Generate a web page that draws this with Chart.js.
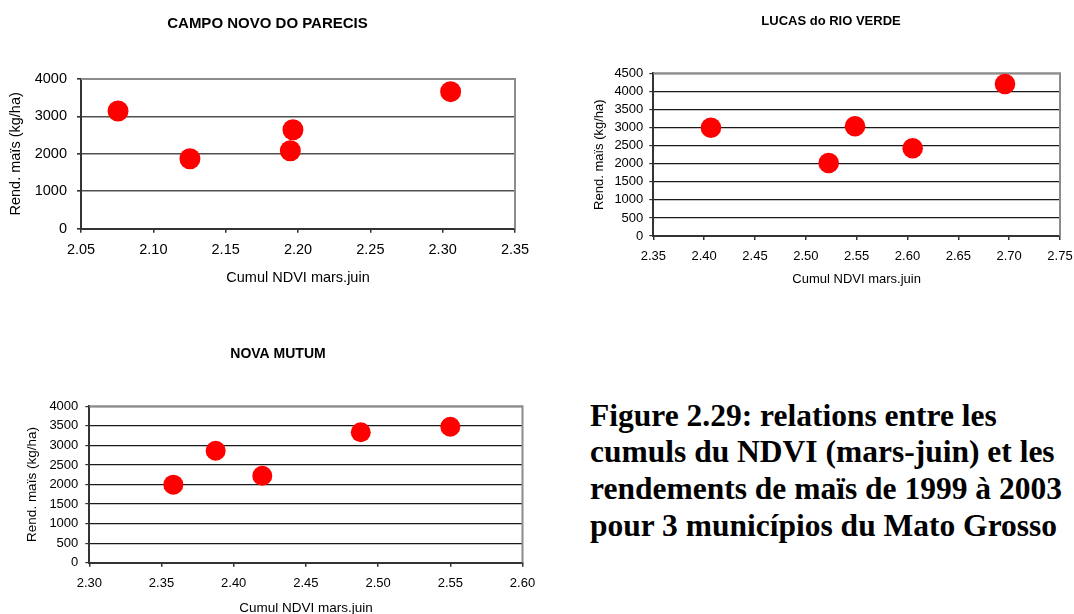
<!DOCTYPE html>
<html>
<head>
<meta charset="utf-8">
<script src="https://cdn.jsdelivr.net/npm/chart.js@4"></script>
<style>
  body { margin: 0; background: #fff; width: 1074px; height: 614px; position: relative; overflow: hidden; }
  canvas { position: absolute; }
  #c1 { left: 0; top: 0; }
  #c2 { left: 540px; top: 0; }
  #c3 { left: 0; top: 330px; }
  .caption {
    position: absolute; left: 590px; top: 397.7px;
    font-family: "Liberation Serif", "Times New Roman", serif;
    font-weight: bold; font-size: 31.5px; line-height: 36.7px;
    white-space: nowrap; color: #000;
  }
</style>
</head>
<body>
<canvas id="c1" width="540" height="300"></canvas>
<canvas id="c2" width="534" height="300"></canvas>
<canvas id="c3" width="560" height="300"></canvas>
<div class="caption">Figure 2.29: relations entre les<br>cumuls du NDVI (mars-juin) et les<br>rendements de maïs de 1999 à 2003<br>pour 3 municípios du Mato Grosso</div>

<script>
// Campo Novo do Parecis
const campoNdvi = [2.0756, 2.1253, 2.1965, 2.1947, 2.3055];
const campoRend = [3145, 1870, 2645, 2084, 3661];
const campoXTicks = [2.05, 2.10, 2.15, 2.20, 2.25, 2.30, 2.35];
const campoYTicks = [0, 1000, 2000, 3000, 4000];

// Lucas do Rio Verde
const lucasNdvi = [2.4067, 2.5225, 2.5484, 2.6051, 2.6959];
const lucasRend = [2995, 2019, 3034, 2426, 4204];
const lucasXTicks = [2.35, 2.40, 2.45, 2.50, 2.55, 2.60, 2.65, 2.70, 2.75];
const lucasYTicks = [0, 500, 1000, 1500, 2000, 2500, 3000, 3500, 4000, 4500];

// Nova Mutum
const novaNdvi = [2.3582, 2.3875, 2.4198, 2.488, 2.55];
const novaRend = [1995, 2864, 2225, 3335, 3478];
const novaXTicks = [2.30, 2.35, 2.40, 2.45, 2.50, 2.55, 2.60];
const novaYTicks = [0, 500, 1000, 1500, 2000, 2500, 3000, 3500, 4000];

const xTitle = "Cumul NDVI mars.juin";
const yTitle = "Rend. maïs (kg/ha)";
const FONT = "'Liberation Sans', Arial, sans-serif";

// top and right border of the plot area, in grey
const frame = {
  id: "frame",
  beforeDatasetsDraw(chart) {
    const a = chart.chartArea;
    const ctx = chart.ctx;
    ctx.save();
    ctx.strokeStyle = "#8c8c8c";
    ctx.lineWidth = 2;
    ctx.beginPath();
    ctx.moveTo(a.left, a.top);
    ctx.lineTo(a.right, a.top);
    ctx.lineTo(a.right, a.bottom);
    ctx.stroke();
    ctx.restore();
  },
};

function makeChart(id, o) {
  const points = o.xs.map((x, i) => ({ x: x, y: o.ys[i] }));
  return new Chart(document.getElementById(id), {
    type: "scatter",
    data: {
      datasets: [
        {
          data: points,
          backgroundColor: "#ff0000",
          borderWidth: 0,
          pointRadius: o.radius,
          pointHoverRadius: o.radius,
        },
      ],
    },
    options: {
      responsive: false,
      animation: false,
      layout: { padding: { left: o.padLeft, right: o.padRight, top: 0, bottom: 0 } },
      plugins: {
        legend: { display: false },
        tooltip: { enabled: false },
        title: {
          display: true,
          text: o.title,
          color: "#000",
          font: { family: FONT, size: o.titleSize, weight: "bold" },
          padding: { top: o.titleTop, bottom: o.titleBottom },
        },
      },
      scales: {
        x: {
          type: "linear",
          min: o.xTicks[0],
          max: o.xTicks[o.xTicks.length - 1],
          afterBuildTicks: (s) => { s.ticks = o.xTicks.map((v) => ({ value: v })); },
          afterFit: (s) => {
            s.height = o.xHeight;
            s.paddingLeft = 0;
            s.paddingRight = o.xPadRight;
          },
          grid: { drawOnChartArea: false, drawTicks: true, tickLength: 4, tickColor: "#333", lineWidth: 1.5 },
          border: { display: true, color: "#333", width: 2 },
          ticks: {
            color: "#000",
            padding: o.xTickPad,
            maxRotation: 0,
            autoSkip: false,
            font: { family: FONT, size: o.tickSize },
            callback: (v) => Number(v).toFixed(2),
          },
          title: {
            display: true,
            text: xTitle,
            color: "#000",
            font: { family: FONT, size: o.axisSize },
            padding: { top: 0, bottom: o.xTitleBottom },
          },
        },
        y: {
          type: "linear",
          min: o.yTicks[0],
          max: o.yTicks[o.yTicks.length - 1],
          afterBuildTicks: (s) => { s.ticks = o.yTicks.map((v) => ({ value: v })); },
          afterFit: (s) => { s.width = o.yWidth; },
          grid: { color: o.gridColor, lineWidth: o.gridWidth, tickLength: 4, tickColor: "#333" },
          border: { display: true, color: "#333", width: 2 },
          ticks: {
            color: "#000",
            padding: o.yTickPad,
            autoSkip: false,
            font: { family: FONT, size: o.tickSize },
            callback: (v) => String(v),
          },
          title: {
            display: true,
            text: yTitle,
            color: "#000",
            font: { family: FONT, size: o.axisSize },
            padding: { top: o.yTitleTop, bottom: 0 },
          },
        },
      },
    },
    plugins: [frame],
  });
}

makeChart("c1", {
  title: "CAMPO NOVO DO PARECIS",
  xs: campoNdvi, ys: campoRend, xTicks: campoXTicks, yTicks: campoYTicks,
  radius: 10.5, padLeft: 0, padRight: 5, xPadRight: 25, yWidth: 81, xHeight: 71.3,
  titleSize: 15, titleTop: 15, titleBottom: 46,
  tickSize: 14.5, axisSize: 14.5, xTickPad: 8.9, yTickPad: 10,
  xTitleBottom: 13.6, yTitleTop: 7, gridColor: "#505050", gridWidth: 1.6,
});

makeChart("c2", {
  title: "LUCAS do RIO VERDE",
  xs: lucasNdvi, ys: lucasRend, xTicks: lucasXTicks, yTicks: lucasYTicks,
  radius: 10.3, padLeft: 48, padRight: 0, xPadRight: 14, yWidth: 65.3, xHeight: 64,
  titleSize: 13, titleTop: 13.5, titleBottom: 44.2,
  tickSize: 13, axisSize: 13, xTickPad: 8.9, yTickPad: 6,
  xTitleBottom: 12.9, yTitleTop: 3.2, gridColor: "#1a1a1a", gridWidth: 1.2,
});

makeChart("c3", {
  title: "NOVA MUTUM",
  xs: novaNdvi, ys: novaRend, xTicks: novaXTicks, yTicks: novaYTicks,
  radius: 10, padLeft: 0, padRight: 4, xPadRight: 37.5, yWidth: 89.3, xHeight: 67.3,
  titleSize: 14, titleTop: 15.6, titleBottom: 43.9,
  tickSize: 13, axisSize: 13.5, xTickPad: 8.8, yTickPad: 7,
  xTitleBottom: 13.6, yTitleTop: 24.2, gridColor: "#1a1a1a", gridWidth: 1.2,
});
</script>
</body>
</html>
